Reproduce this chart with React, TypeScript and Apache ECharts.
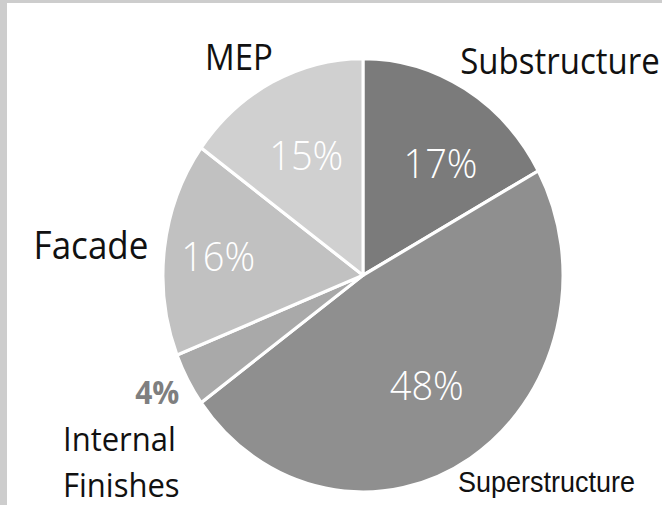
import React, { useEffect, useRef } from "react";
import * as echarts from "echarts";

// Cost breakdown by building element (percent of total)
const categories = ["Substructure", "Superstructure", "Internal Finishes", "Facade", "MEP"];
const shares = [17, 48, 4, 16, 15];
const sliceColors = ["#7b7b7b", "#8f8f8f", "#a9a9a9", "#c1c1c1", "#d0d0d0"];

// Chart canvas is drawn slightly squashed and stretched back vertically by CSS
const WIDTH = 662;
const HEIGHT = 466;
const STRETCH = 505 / HEIGHT;
const CX = 363;
const CY = 254;
const RADIUS = 200;

// Distance of each percentage label from the pie centre, and a small turn (degrees, clockwise)
const labelRadius = [130, 119, 232, 146, 125];
const labelTurn = [6, 0, 1.3, 0, 0];

const NAME_FONT = "'Open Sans', 'Noto Sans', sans-serif";

export default function App() {
  const ref = useRef<HTMLDivElement>(null);

  useEffect(() => {
    if (!ref.current) return;
    const chart = echarts.init(ref.current, undefined, { renderer: "svg" });

    const data = categories.map((name, i) => {
      const item: any = {
        name,
        value: shares[i],
        itemStyle: { color: sliceColors[i] },
      };
      if (name === "Internal Finishes") {
        item.label = { color: "#7f7f7f", fontWeight: "bold", fontSize: 30 };
      }
      return item;
    });

    const nameText = (text: string, x: number, y: number, align: string, size = 33) => ({
      type: "text",
      x,
      y,
      style: {
        text,
        fill: "#111111",
        font: `normal ${size}px ${NAME_FONT}`,
        lineHeight: size,
        align,
        verticalAlign: "middle",
      },
    });

    chart.setOption({
      animation: false,
      series: [
        {
          type: "pie",
          center: [CX, CY],
          radius: [0, RADIUS],
          startAngle: 90,
          clockwise: true,
          silent: true,
          data,
          itemStyle: { borderColor: "#ffffff", borderWidth: 3 },
          label: {
            show: true,
            position: "inside",
            formatter: (p: any) => `${p.value}%`,
            color: "#ffffff",
            fontFamily: NAME_FONT,
            fontWeight: 300,
            fontSize: 38,
          },
          labelLine: { show: false },
          labelLayout: (params: any) => {
            const r = params.labelRect;
            const vx = r.x + r.width / 2 - CX;
            const vy = r.y + r.height / 2 - CY;
            const turn = (labelTurn[params.dataIndex] * Math.PI) / 180;
            const ang = Math.atan2(vy, vx) + turn;
            const d = labelRadius[params.dataIndex];
            return {
              x: CX + Math.cos(ang) * d,
              y: CY + Math.sin(ang) * d,
              align: "center",
              verticalAlign: "middle",
            };
          },
        },
      ],
      graphic: [
        nameText(categories[4], 239, 52, "center"),
        nameText(categories[0], 560, 55, "center"),
        nameText(categories[3], 91, 226, "center", 35),
        nameText("Internal", 63, 404, "left", 31),
        nameText("Finishes", 63, 446, "left", 31),
        {
          type: "rect",
          shape: { x: 453, y: 431, width: 209, height: 40 },
          style: { fill: "#ffffff" },
        },
        {
          type: "text",
          x: 458,
          y: 445,
          style: {
            text: categories[1],
            fill: "#111111",
            font: "normal 27px 'Liberation Sans', Arial, sans-serif",
            lineHeight: 27,
            align: "left",
            verticalAlign: "middle",
          },
        },
      ],
    });

    return () => chart.dispose();
  }, []);

  return (
    <div
      style={{
        position: "fixed",
        left: 0,
        top: 0,
        width: 662,
        height: 505,
        background: "#cdcdcd",
        overflow: "hidden",
      }}
    >
      <div
        style={{
          position: "absolute",
          left: 7,
          top: 3,
          right: 0,
          bottom: 0,
          background: "#ffffff",
        }}
      />
      <div
        ref={ref}
        style={{
          position: "absolute",
          left: 0,
          top: 0,
          width: WIDTH,
          height: HEIGHT,
          transform: `scaleY(${STRETCH})`,
          transformOrigin: "0 0",
        }}
      />
    </div>
  );
}
